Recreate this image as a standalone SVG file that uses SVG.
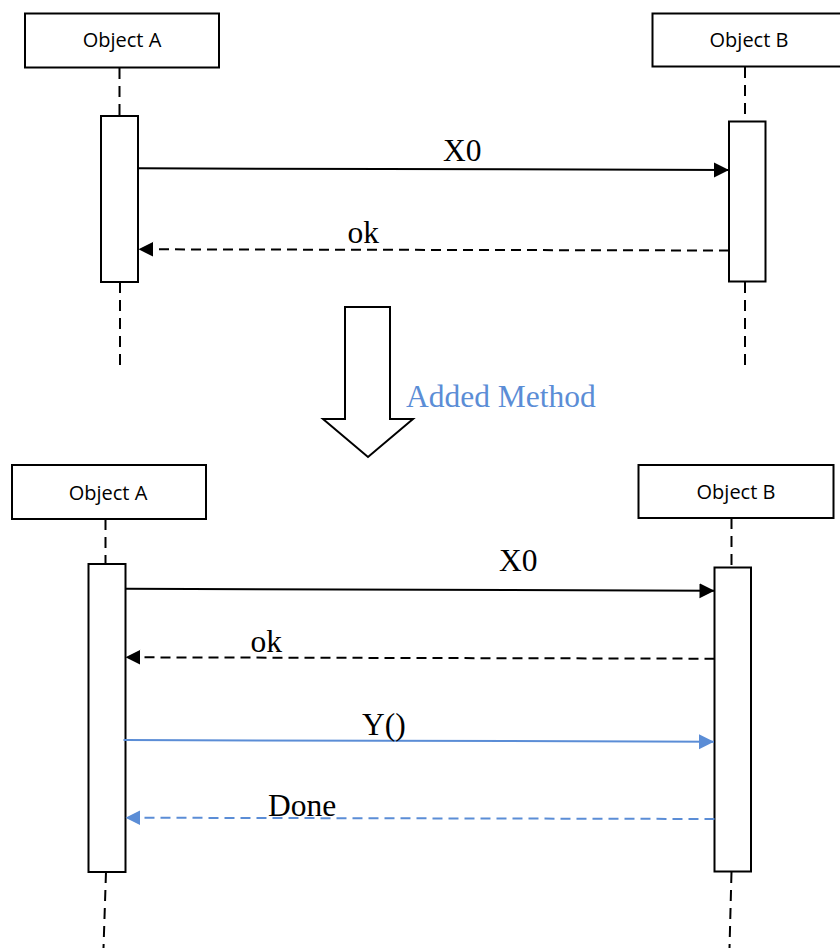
<svg xmlns="http://www.w3.org/2000/svg" width="840" height="948" viewBox="0 0 840 948">
<style>
.box{fill:#fff;stroke:#000;stroke-width:2}
.act{fill:#fff;stroke:#000;stroke-width:2}
.life{fill:none;stroke:#000;stroke-width:2;stroke-dasharray:11 7}
.obj{font-family:"Open Sans","Liberation Sans",sans-serif;font-size:20px;fill:#000;text-anchor:middle}
.lbl{font-family:"Liberation Serif","Times New Roman",serif;font-size:31.5px;fill:#000}
.msg{fill:none;stroke:#000;stroke-width:2}
.ret{fill:none;stroke:#000;stroke-width:2;stroke-dasharray:10 6}
.bmsg{fill:none;stroke:#5B8DD6;stroke-width:2}
.bret{fill:none;stroke:#5B8DD6;stroke-width:2;stroke-dasharray:10 6}
.blue{fill:#5B8DD6}
</style>
<defs>
<marker id="ah" markerUnits="userSpaceOnUse" markerWidth="16" markerHeight="16" refX="15" refY="7.5" orient="auto">
<path d="M0,0 L15,7.5 L0,15 Z" fill="#000"/>
</marker>
<marker id="ahb" markerUnits="userSpaceOnUse" markerWidth="16" markerHeight="16" refX="15" refY="7.5" orient="auto">
<path d="M0,0 L15,7.5 L0,15 Z" fill="#5B8DD6"/>
</marker>
</defs>

<g id="top-objectA">
<rect class="box" x="25" y="13.5" width="194" height="54"/>
<text class="obj" x="122" y="47">Object A</text>
<line class="life" x1="119.5" y1="68" x2="119.5" y2="116"/>
<rect class="act" x="101" y="116" width="37" height="166"/>
<line class="life" x1="120" y1="282" x2="120" y2="368"/>
</g>

<g id="top-objectB">
<rect class="box" x="652.5" y="13.5" width="194" height="53"/>
<text class="obj" x="749" y="47">Object B</text>
<line class="life" x1="745" y1="67" x2="745" y2="121"/>
<rect class="act" x="729" y="121.5" width="36.5" height="160"/>
<line class="life" x1="745" y1="282" x2="745" y2="365"/>
</g>

<g id="transition">
<polygon points="345,307 390,307 390,419 413,419 368,457 323,419 345,419" fill="#fff" stroke="#000" stroke-width="2"/>
<text class="lbl blue" x="406" y="406.5">Added Method</text>
</g>

<g id="bottom-objectA">
<rect class="box" x="12" y="465" width="194" height="54"/>
<text class="obj" x="108" y="499.5">Object A</text>
<line class="life" x1="105.5" y1="519" x2="105.5" y2="564"/>
<rect class="act" x="88.5" y="564" width="37" height="308"/>
<line class="life" x1="106" y1="872" x2="103.5" y2="948"/>
</g>

<g id="bottom-objectB">
<rect class="box" x="638.5" y="465" width="195" height="53"/>
<text class="obj" x="736" y="499">Object B</text>
<line class="life" x1="731.5" y1="518" x2="731.5" y2="567"/>
<rect class="act" x="714.5" y="567.5" width="36.5" height="304"/>
<line class="life" x1="731.5" y1="872" x2="729.5" y2="948"/>
</g>

<g id="connectors">
<line class="msg" x1="138" y1="168.3" x2="729" y2="170" marker-end="url(#ah)"/>
<line class="ret" x1="729" y1="250.5" x2="138.5" y2="249.3" marker-end="url(#ah)"/>
<line class="msg" x1="125.5" y1="588.7" x2="714.5" y2="590.7" marker-end="url(#ah)"/>
<line class="ret" x1="714.5" y1="658.7" x2="125.5" y2="657.3" marker-end="url(#ah)"/>
<line class="bmsg" x1="123.5" y1="740" x2="714" y2="741.7" marker-end="url(#ahb)"/>
<line class="bret" x1="714.5" y1="819" x2="125.5" y2="817.7" marker-end="url(#ahb)"/>
</g>

<g id="labels">
<text class="lbl" x="443" y="161">X0</text>
<text class="lbl" x="347.5" y="242.5">ok</text>
<text class="lbl" x="499" y="570.5">X0</text>
<text class="lbl" x="250.5" y="651.5">ok</text>
<text class="lbl" x="362" y="735">Y()</text>
<text class="lbl" x="268" y="816">Done</text>
</g>
</svg>
